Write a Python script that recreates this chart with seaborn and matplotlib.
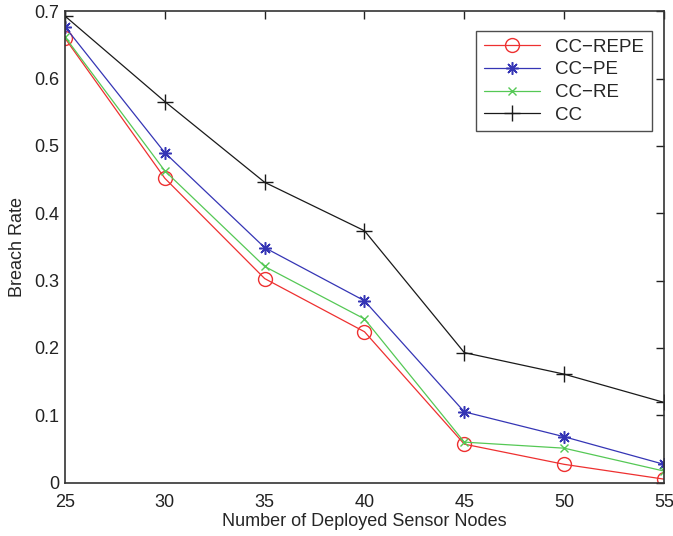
import matplotlib
matplotlib.use("Agg")
import matplotlib.pyplot as plt
import pandas as pd
import seaborn as sns

nodes = [25, 30, 35, 40, 45, 50, 55]
cc_repe = [0.660, 0.452, 0.303, 0.224, 0.057, 0.027, 0.005]
cc_pe = [0.677, 0.490, 0.349, 0.270, 0.105, 0.068, 0.027]
cc_re = [0.662, 0.463, 0.321, 0.243, 0.060, 0.051, 0.017]
cc = [0.693, 0.566, 0.446, 0.374, 0.193, 0.161, 0.119]

series = [
    ("CC\u2212REPE", cc_repe, "#ee3030", "o", 10, 1.0),
    ("CC\u2212PE", cc_pe, "#3535b5", (8, 2, 0), 9, 1.1),
    ("CC\u2212RE", cc_re, "#55c855", "x", 6, 1.0),
    ("CC", cc, "#1a1a1a", "+", 12, 1.0),
]

sns.set_theme(style="white")
plt.rcParams["font.family"] = ["Liberation Sans Narrow", "Liberation Sans", "DejaVu Sans"]

fig = plt.figure(figsize=(6.73, 5.36), dpi=100)
ax = fig.add_axes([0.0966, 0.0998, 0.89, 0.879])

for name, vals, color, marker, ms, mew in series:
    df = pd.DataFrame({"x": nodes, "y": vals})
    sns.lineplot(data=df, x="x", y="y", ax=ax, color=color, linewidth=0.9,
                 marker=marker, markersize=ms, markeredgewidth=mew,
                 markerfacecolor="none" if marker == "o" else color,
                 markeredgecolor=color, label=name)

ax.set_xlim(25, 55)
ax.set_ylim(0, 0.7)
ax.set_xticks(nodes)
ax.set_yticks([0, 0.1, 0.2, 0.3, 0.4, 0.5, 0.6, 0.7])
ax.set_yticklabels(["0", "0.1", "0.2", "0.3", "0.4", "0.5", "0.6", "0.7"])
ax.set_xlabel("Number of Deployed Sensor Nodes", fontsize=13, labelpad=2)
ax.set_ylabel("Breach Rate", fontsize=13, labelpad=6)
ax.tick_params(direction="in", length=6, width=1, top=True, right=True,
               labelsize=13, colors="#222222", pad=4)
ax.tick_params(axis="x", pad=8)
for sp in ax.spines.values():
    sp.set_color("#333333")
    sp.set_linewidth(1.2)

leg = ax.legend(loc="upper right", fontsize=13.5, frameon=True, fancybox=False,
                edgecolor="#222222", handlelength=3.0, borderpad=0.4,
                labelspacing=0.3, bbox_to_anchor=(0.995, 0.978))
leg.get_frame().set_linewidth(1.0)

fig.savefig("out.png", dpi=100)
